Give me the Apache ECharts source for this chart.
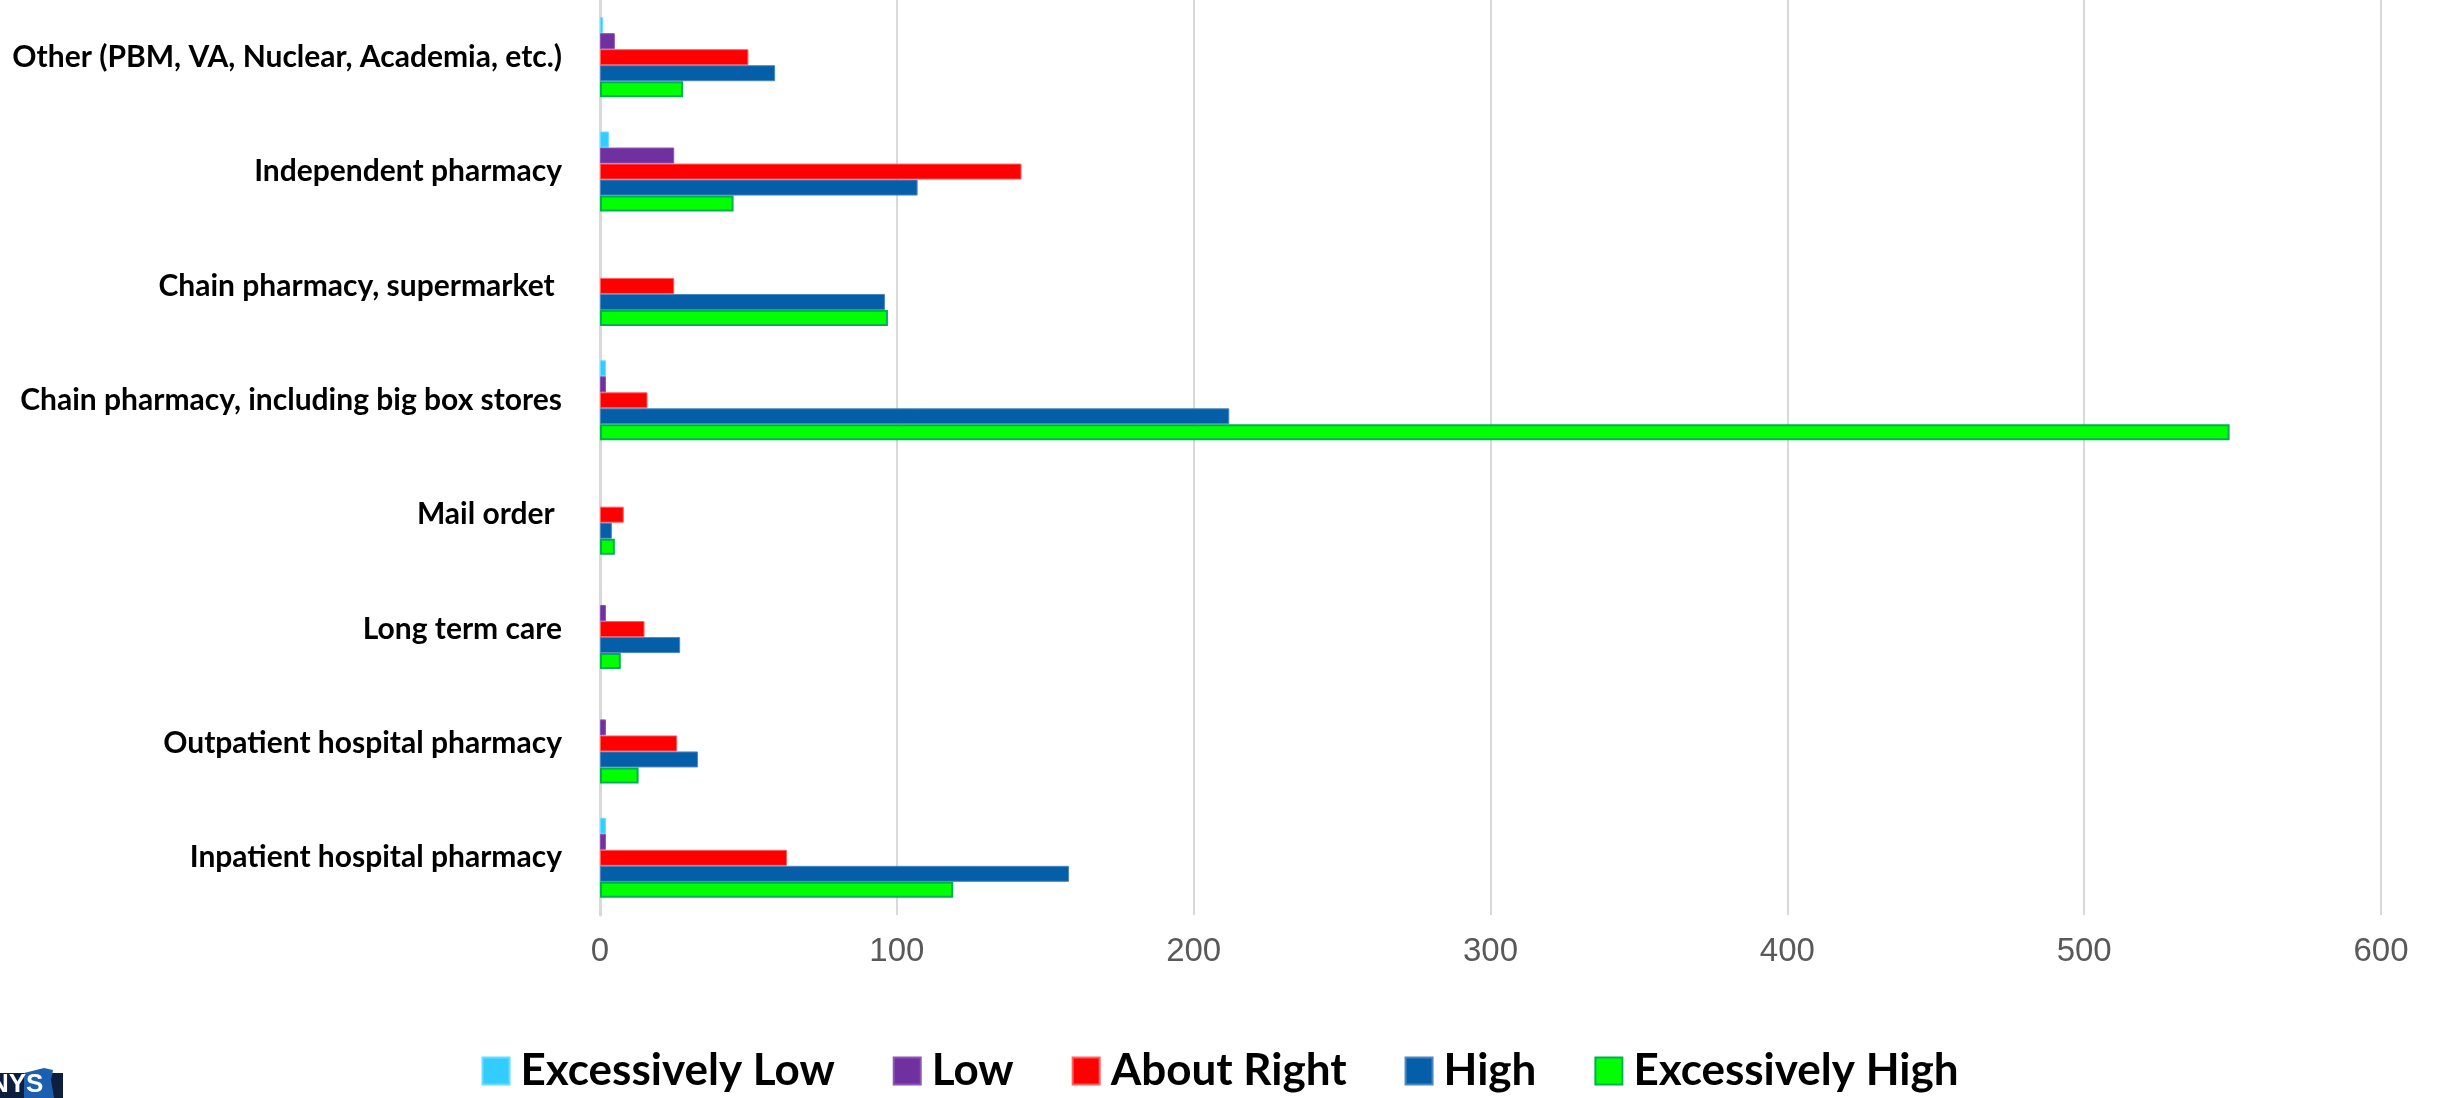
<!DOCTYPE html>
<html>
<head>
<meta charset="utf-8">
<script src="https://cdn.jsdelivr.net/npm/echarts@6/dist/echarts.min.js"></script>
<style>
html,body{margin:0;padding:0;background:#fff;}
#chart{width:2440px;height:1098px;}
</style>
</head>
<body>
<div id="chart"></div>
<script>
// Categories listed bottom to top
const categories = [
  'Inpatient hospital pharmacy',
  'Outpatient hospital pharmacy',
  'Long term care',
  'Mail order ',
  'Chain pharmacy, including big box stores',
  'Chain pharmacy, supermarket ',
  'Independent pharmacy',
  'Other (PBM, VA, Nuclear, Academia, etc.)'
];
const seriesNames = ['Excessively Low', 'Low', 'About Right', 'High', 'Excessively High'];
const excessivelyLow = [2, 0, 0, 0, 2, 0, 3, 1];
const low            = [2, 2, 2, 0, 2, 0, 25, 5];
const aboutRight     = [63, 26, 15, 8, 16, 25, 142, 50];
const high           = [158, 33, 27, 4, 212, 96, 107, 59];
const excessivelyHigh= [119, 13, 7, 5, 549, 97, 45, 28];
const xTicks = { min: 0, max: 600, interval: 100 };

const colors = ['#33CCFF', '#7030A0', '#FF0000', '#055EA8', '#00FF00'];
const borders = ['#66DDFF', '#8A55B5', '#FF6060', '#4A86C0', '#00B050'];
const allData = [excessivelyLow, low, aboutRight, high, excessivelyHigh];

const chart = echarts.init(document.getElementById('chart'));
const series = seriesNames.map((name, i) => ({
  name: name,
  type: 'bar',
  // zero counts draw no bar in the reference
  data: allData[i].map(v => (v === 0 ? null : v)),
  barGap: '0%',
  barCategoryGap: '30%',
  itemStyle: { color: colors[i], borderColor: borders[i], borderWidth: i === 4 ? 2 : 1 },
  emphasis: { disabled: true }
}));

chart.setOption({
  animation: false,
  backgroundColor: '#ffffff',
  grid: { left: 600, right: 59, top: 0, bottom: 183, containLabel: false },
  legend: {
    bottom: 0,
    left: 'center',
    itemWidth: 27,
    itemHeight: 27,
    itemGap: 58,
    icon: 'rect',
    data: seriesNames,
    textStyle: { fontFamily: 'Lato', fontWeight: 'bold', fontSize: 44, color: '#000', padding: [0, 0, 0, 6] }
  },
  xAxis: {
    type: 'value',
    min: xTicks.min, max: xTicks.max, interval: xTicks.interval,
    axisLine: { show: false },
    axisTick: { show: false },
    splitLine: { lineStyle: { color: '#D9D9D9', width: 2 } },
    axisLabel: { fontFamily: 'Liberation Sans', fontSize: 33, color: '#595959', margin: 20 }
  },
  yAxis: {
    type: 'category',
    data: categories,
    axisLine: { show: true, lineStyle: { color: '#D9D9D9', width: 3 } },
    axisTick: { show: false },
    axisLabel: { fontFamily: 'Lato', fontWeight: 'bold', fontSize: 30, color: '#000', margin: 38 }
  },
  series: series,
  graphic: [
    { type: 'rect', shape: { x: 0, y: 1073, width: 63, height: 25 }, style: { fill: '#0E1F3D' } },
    { type: 'polygon', shape: { points: [[24, 1073], [44, 1068], [53, 1070], [51, 1080], [54, 1098], [24, 1098]] }, style: { fill: '#1C5FB0' } },
    { type: 'text', left: -10, top: 1072, style: { text: 'NYS', fill: '#ffffff', font: 'bold 26px "Liberation Sans"' } }
  ]
});
</script>
</body>
</html>
